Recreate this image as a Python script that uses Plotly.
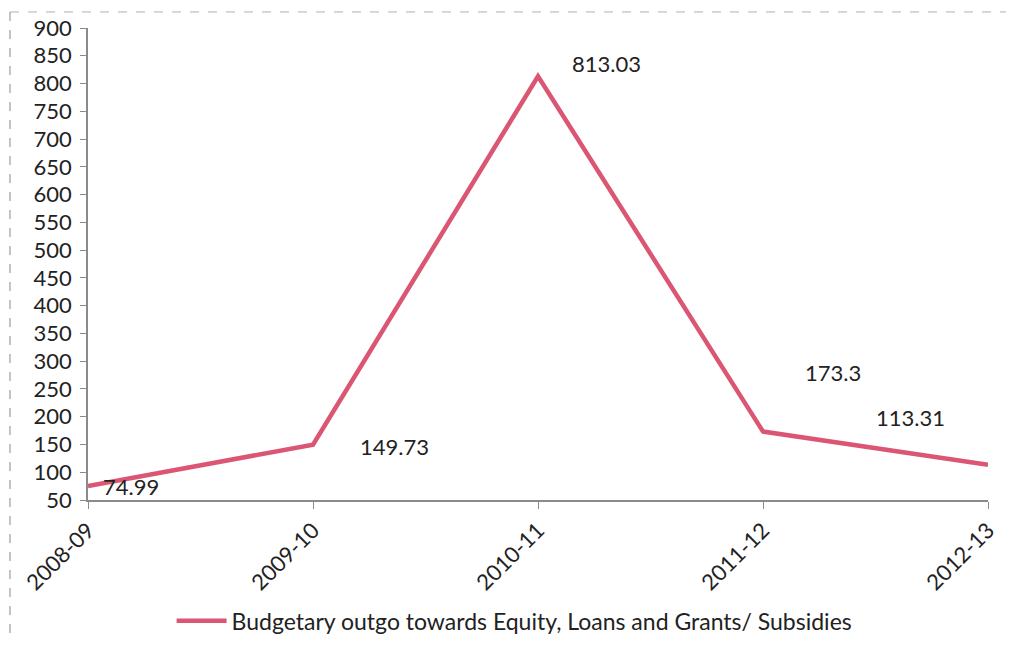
import plotly.graph_objects as go

years = ["2008-09", "2009-10", "2010-11", "2011-12", "2012-13"]
outgo = [74.99, 149.73, 813.03, 173.3, 113.31]
label_text = ["74.99", "149.73", "813.03", "173.3", "113.31"]
series_name = "Budgetary outgo towards Equity, Loans and Grants/ Subsidies"
y_ticks = list(range(50, 901, 50))

# pixel offsets of the data labels (as placed in the original)
label_shift = [(43, 0), (81, -2), (68, 13), (70, 59), (-78, 47)]

FONT = "Lato, 'Open Sans', sans-serif"
LINE = "#DB5673"
AXIS = "#8a8a8a"

fig = go.Figure()
fig.add_trace(go.Scatter(
    x=list(range(len(years))), y=outgo, mode="lines",
    line=dict(color=LINE, width=4.5),
    name=series_name, showlegend=True,
))

for i, (v, t) in enumerate(zip(outgo, label_text)):
    dx, dy = label_shift[i]
    fig.add_annotation(x=i, y=v, text=t, showarrow=False,
                       xshift=dx, yshift=dy,
                       font=dict(family=FONT, size=22, color="#222"))

# scanned-page dashed frame (top and left)
fig.add_shape(type="line", xref="paper", yref="paper",
              x0=-0.0867, x1=1.05, y0=1.034, y1=1.034,
              line=dict(color="#b0b0b0", width=1, dash="dash"))
fig.add_shape(type="line", xref="paper", yref="paper",
              x0=-0.0867, x1=-0.0867, y0=1.034, y1=-0.29,
              line=dict(color="#b0b0b0", width=1.5, dash="dash"))

fig.update_layout(
    width=1006, height=629,
    margin=dict(l=80, r=26, t=20, b=137, autoexpand=False),
    paper_bgcolor="white", plot_bgcolor="white",
    font=dict(family=FONT, size=22, color="#222"),
    legend=dict(orientation="h", x=0.474, xanchor="center", y=-0.256,
                yanchor="middle", font=dict(family=FONT, size=23, color="#222"),
                itemwidth=50),
    xaxis=dict(
        range=[0, 4], tickmode="array", tickvals=list(range(len(years))),
        ticktext=years, tickangle=-45, showgrid=False, zeroline=False,
        showline=True, linecolor=AXIS, linewidth=1.5,
        ticks="outside", ticklen=7, tickcolor=AXIS, automargin=False,
        tickfont=dict(family=FONT, size=22, color="#222"),
    ),
    yaxis=dict(
        range=[50, 900], tickmode="array", tickvals=y_ticks,
        showgrid=False, zeroline=False, automargin=False,
        showline=True, linecolor=AXIS, linewidth=1.5,
        ticks="outside", ticklen=6, tickcolor=AXIS,
        ticklabelstandoff=4,
        tickfont=dict(family=FONT, size=22, color="#222"),
    ),
)

fig.write_html("out.html")
